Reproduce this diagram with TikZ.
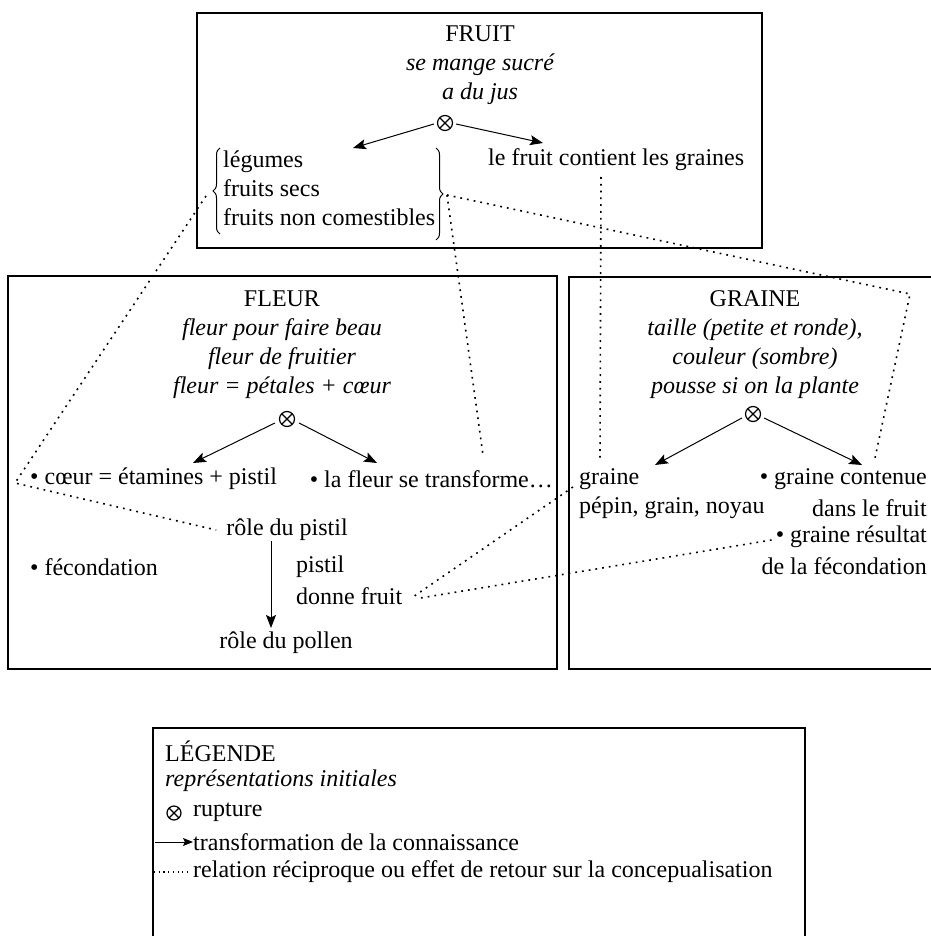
\documentclass[tikz,border=0pt]{standalone}
\usepackage{fontspec}
\setmainfont{Liberation Serif}
\usetikzlibrary{arrows.meta,decorations.pathreplacing,calc}
\begin{document}
\begin{tikzpicture}[x=1pt,y=-1pt,
  txt/.style={inner sep=0pt, font=\fontsize{24}{29}\selectfont},
  boxline/.style={line width=1.2pt},
  arr/.style={line width=1pt,-{Stealth[length=13pt,width=10pt,inset=2.5pt]}},
  smallarr/.style={line width=1pt,-{Stealth[length=10pt,width=8pt,inset=2pt]}},
  dots/.style={line width=1.6pt, dash pattern=on 1.8pt off 5pt},
  brc/.style={line width=1pt, decorate, decoration={brace,amplitude=7pt}},
  rup/.style={circle, draw, line width=1.2pt, minimum size=15pt, inner sep=0pt,
    path picture={\draw[line width=1.2pt]
      (path picture bounding box.north west) -- (path picture bounding box.south east)
      (path picture bounding box.north east) -- (path picture bounding box.south west);}}
]
\useasboundingbox[fill=white] (0,0) rectangle (930,936);

% ---------- boxes ----------
\draw[boxline] (197,13) rectangle (762,248);
\draw[boxline] (8,276) rectangle (557,669);
\draw[boxline] (569,277) rectangle (960,669);
\draw[boxline] (153,728) rectangle (805,960);

% ---------- FRUIT ----------
\node[txt, align=center] (fruit) at (480,65) {FRUIT\\ \itshape se mange sucré\\ \itshape a du jus};
\node[rup] (rf) at (445,123) {};
\coordinate (rfl) at (353,148);
\coordinate (rfr) at (543,143);
\draw[arr] ($(rf.west)+(-3,1)$) -- (rfl);
\draw[arr] ($(rf.east)+(3,1)$) -- (rfr);
\node[txt, align=left, anchor=west] (cats) at (223,188) {légumes\\ fruits secs\\ fruits non comestibles};
\draw[brc] (220,234) -- (220,148);
\draw[brc] (436,148) -- (436,240);
\coordinate (lbtip) at (206,196);
\coordinate (rbtip) at (447,195);
\node[txt, anchor=west] (contient) at (488,160) {le fruit contient les graines};

% ---------- FLEUR ----------
\node[txt, align=center] (fleur) at (282,345) {FLEUR\\ \itshape fleur pour faire beau\\ \itshape fleur de fruitier\\ \itshape fleur = pétales + cœur};
\node[rup] (rl) at (287,419) {};
\coordinate (rll) at (193,463);
\coordinate (rlr) at (377,463);
\draw[arr] ($(rl.west)+(-4,4)$) -- (rll);
\draw[arr] ($(rl.east)+(4,4)$) -- (rlr);
\node[txt, anchor=west] (coeur) at (30,479) {\textbullet{} cœur = étamines + pistil};
\node[txt, anchor=east] (transf) at (553,479) {\textbullet{} la fleur se transforme…};
\node[txt] (pistilrole) at (287,530) {rôle du pistil};
\node[txt, anchor=west] (fecond) at (30,567) {\textbullet{} fécondation};
\node[txt, anchor=west] (pistil) at (296,567) {pistil};
\node[txt, anchor=west] (donne) at (296,596) {donne fruit};
\node[txt] (pollen) at (286,643) {rôle du pollen};
\draw[arr] (271,541) -- (271,628);

% ---------- GRAINE ----------
\node[txt, align=center] (graine) at (755,345) {GRAINE\\ \itshape taille (petite et ronde),\\ \itshape couleur (sombre)\\ \itshape pousse si on la plante};
\node[rup] (rg) at (753,414) {};
\coordinate (rgl) at (655,465);
\coordinate (rgr) at (862,465);
\draw[arr] ($(rg.west)+(-3,4)$) -- (rgl);
\draw[arr] ($(rg.east)+(3,4)$) -- (rgr);
\node[txt, anchor=west] (gr) at (579,479) {graine};
\node[txt, anchor=west] (pepin) at (579,508) {pépin, grain, noyau};
\node[txt, anchor=east] (contenue) at (927,479) {\textbullet{} graine contenue};
\node[txt, anchor=east] (dans) at (927,508) {dans le fruit};
\node[txt, anchor=east] (resultat) at (927,537) {\textbullet{} graine résultat};
\node[txt, anchor=east] (delafec) at (927,566) {de la fécondation};

% ---------- dotted relations ----------
\coordinate (c1) at (15,483);
\coordinate (c2) at (910,294);
\coordinate (t1) at (483,455);
\coordinate (t2) at (875,458);
\coordinate (t3) at (601,177);
\coordinate (t4) at (600,458);
\draw[dots] (lbtip) -- (c1) -- ($(pistilrole.west)+(-10,0)$);
\draw[dots] (rbtip) -- (t1);
\draw[dots] (rbtip) -- (c2) -- (t2);
\draw[dots] (t3) -- (t4);
\draw[dots] ($(gr.west)+(-6,8)$) -- ($(donne.east)+(12,0)$);
\draw[dots] ($(resultat.west)+(-4,3)$) -- ($(donne.east)+(18,2)$);

% ---------- legend ----------
\node[txt, anchor=west] (leg) at (165,751) {LÉGENDE};
\node[txt, anchor=west] (repr) at (165,781) {\itshape représentations initiales};
\node[rup, minimum size=14pt] (lr) at (174,813) {};
\node[txt, anchor=west] (lrt) at (193,812) {rupture};
\coordinate (la0) at (155,842);
\node[txt, anchor=west] (lat) at (193,842) {transformation de la connaissance};
\draw[smallarr] (la0) -- (lat.west);
\coordinate (ld0) at (154,872);
\node[txt, anchor=west] (ldt) at (193,872) {relation réciproque ou effet de retour sur la concepualisation};
\draw[dots, line width=1.1pt, dash pattern=on 1.2pt off 3.5pt] (ld0) -- ($(ldt.west)+(-3,0)$);
\end{tikzpicture}
\end{document}
